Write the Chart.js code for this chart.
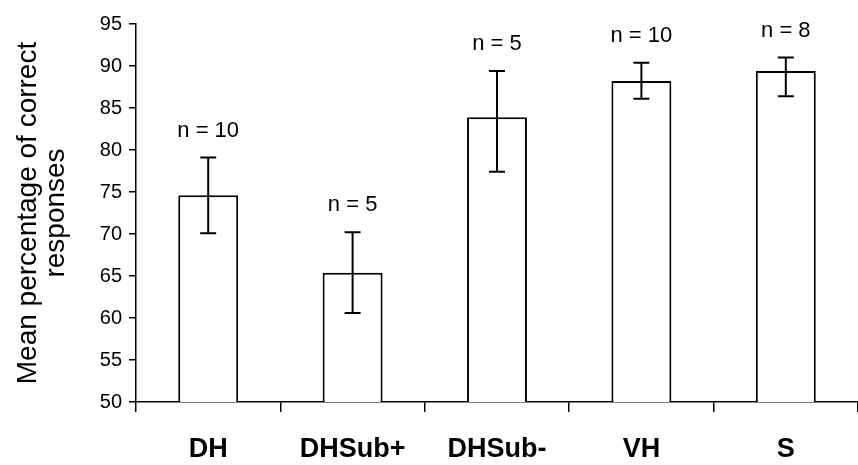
<!DOCTYPE html>
<html>
<head>
<meta charset="utf-8">
<script src="https://cdn.jsdelivr.net/npm/chart.js@4/dist/chart.umd.min.js"></script>
<style>
  html, body { margin: 0; padding: 0; background: #fff; }
  #wrap { width: 858px; height: 465px; position: relative; }
</style>
</head>
<body>
<div id="wrap"><canvas id="chart"></canvas></div>
<script>
// data
const groups = ['DH', 'DHSub+', 'DHSub-', 'VH', 'S'];
const means = [74.6, 65.4, 83.9, 88.2, 89.4];
const errLow = [70.1, 60.6, 77.4, 86.1, 86.4];
const errHigh = [79.1, 70.2, 89.4, 90.4, 91.0];
const nLabels = ['n = 10', 'n = 5', 'n = 5', 'n = 10', 'n = 8'];
const yTicks = { min: 50, max: 95, step: 5 };

const fontFamily = "Arial, 'Liberation Sans', sans-serif";

// error bars plus the n = .. labels on top
const errorBars = {
    id: 'errorBars',
    afterDatasetsDraw(chart) {
        const ctx = chart.ctx;
        const y = chart.scales.y;
        const meta = chart.getDatasetMeta(0);
        ctx.save();
        ctx.strokeStyle = '#000';
        ctx.lineWidth = 2;
        meta.data.forEach((bar, i) => {
            const x = bar.x;
            const top = y.getPixelForValue(errHigh[i]);
            const bot = y.getPixelForValue(errLow[i]);
            ctx.beginPath();
            ctx.moveTo(x, top); ctx.lineTo(x, bot);
            ctx.moveTo(x - 8, top); ctx.lineTo(x + 8, top);
            ctx.moveTo(x - 8, bot); ctx.lineTo(x + 8, bot);
            ctx.stroke();
            ctx.fillStyle = '#000';
            ctx.font = '22px ' + fontFamily;
            ctx.textAlign = 'center';
            ctx.textBaseline = 'middle';
            ctx.fillText(nLabels[i], x, top - 27);
        });
        ctx.restore();
    }
};

const data = {
    labels: groups,
    datasets: [{
        data: means,
        backgroundColor: '#fff',
        borderColor: '#000',
        borderWidth: 2,
        categoryPercentage: 1,
        barPercentage: 0.415
    }]
};

const config = {
    type: 'bar',
    data: data,
    options: {
        responsive: true,
        maintainAspectRatio: false,
        animation: false,
        layout: { padding: { top: 24, right: 0, left: 0, bottom: 0 } },
        plugins: {
            legend: { display: false },
            tooltip: { enabled: false }
        },
        scales: {
            x: {
                afterFit: (scale) => { scale.height = 63; },
                grid: { display: true, drawOnChartArea: false, drawTicks: true, tickLength: 10, color: '#000', lineWidth: 1.5 },
                border: { display: true, color: '#000', width: 1.5 },
                ticks: {
                    color: '#000',
                    padding: 21,
                    font: { family: fontFamily, size: 27, weight: 'bold' }
                }
            },
            y: {
                min: yTicks.min,
                max: yTicks.max,
                afterFit: (scale) => { scale.width = 136; },
                grid: { display: true, drawOnChartArea: false, drawTicks: true, tickLength: 7, color: '#000', lineWidth: 1.5 },
                border: { display: true, color: '#000', width: 1.5 },
                ticks: {
                    stepSize: yTicks.step,
                    color: '#000',
                    padding: 7,
                    font: { family: fontFamily, size: 20 }
                },
                title: {
                    display: true,
                    text: ['Mean percentage of correct', 'responses'],
                    color: '#000',
                    padding: { top: 15, bottom: 0 },
                    font: { family: fontFamily, size: 28, lineHeight: 0.98 }
                }
            }
        }
    },
    plugins: [errorBars]
};

const chart = new Chart(document.getElementById('chart'), config);
</script>
</body>
</html>
